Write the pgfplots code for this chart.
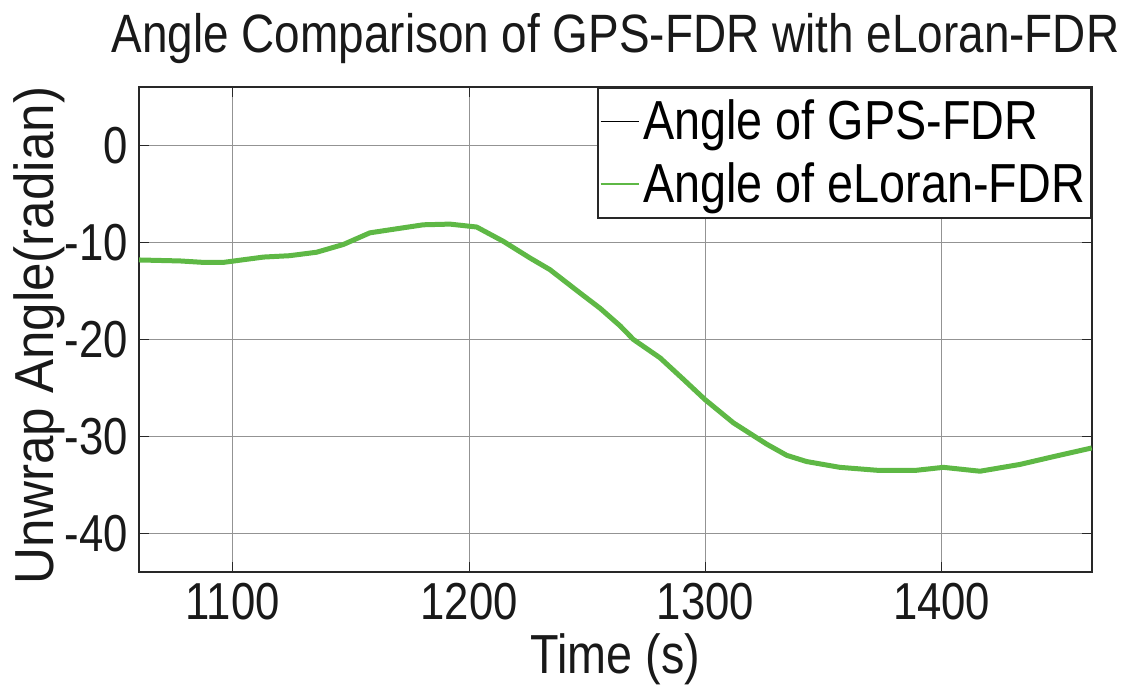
\documentclass[border=0pt]{standalone}
\usepackage{pgfplots}
\pgfplotsset{compat=1.18}
\usepackage{fontspec}
\setmainfont[FakeStretch=0.85]{Liberation Sans}
\newfontfamily\tickfont[FakeStretch=0.84]{Liberation Sans}
\newfontfamily\ylfont[FakeStretch=0.93]{Liberation Sans}
\definecolor{lgreen}{RGB}{94,184,69}
\definecolor{axgray}{RGB}{40,40,40}
\begin{document}
\pgfplotstableread{
x y
1060.3 -11.8
1077.6 -11.9
1087.5 -12.05
1096.0 -12.05
1113.0 -11.5
1124.0 -11.36
1135.5 -11.0
1146.8 -10.2
1158.0 -9.0
1169.4 -8.58
1180.6 -8.17
1191.9 -8.1
1203.2 -8.4
1214.5 -9.88
1225.8 -11.6
1234.2 -12.8
1246.9 -15.2
1255.5 -16.8
1263.9 -18.6
1269.5 -20.0
1280.8 -21.9
1290.6 -24.1
1299.8 -26.2
1311.8 -28.6
1325.9 -30.8
1334.4 -31.96
1342.8 -32.6
1356.9 -33.2
1372.5 -33.5
1389.4 -33.5
1400.7 -33.2
1416.2 -33.6
1433.1 -32.9
1447.2 -32.1
1463.5 -31.2
}\gpsdata
\begin{tikzpicture}
\begin{axis}[
  scale only axis,
  width=476.5pt, height=242.5pt,
  xmin=1060.3, xmax=1463.6,
  ymin=-44, ymax=6.05,
  xtick={1100,1200,1300,1400},
  ytick={-40,-30,-20,-10,0},
  /pgf/number format/assume math mode=true,
  /pgf/number format/set thousands separator={},
  tick label style={font=\tickfont\fontsize{26}{30}\selectfont, text=black!90},
  label style={font=\fontsize{27.5}{32}\selectfont, text=black!90},
  title style={font=\fontsize{27}{32}\selectfont, text=black!90, yshift=2pt},
  title={Angle Comparison of GPS-FDR with eLoran-FDR},
  xlabel={Time (s)},
  ylabel={Unwrap Angle(radian)},
  every axis y label/.style={at={(rel axis cs:0,0.5)}, rotate=90, anchor=center,
    xshift=-3pt, yshift=50pt, font=\ylfont\fontsize{27.5}{32}\selectfont, text=black!90},
  tick align=inside,
  major tick length=5pt,
  tick style={axgray, line width=0.6pt},
  axis line style={axgray, line width=0.9pt},
  grid=major,
  major grid style={gray!85, line width=0.4pt},
  xticklabel style={yshift=-2pt},
  yticklabel style={xshift=-2pt},
  legend style={at={(rel axis cs:1,1)}, anchor=north east,
    draw=axgray, line width=0.9pt, font=\fontsize{27.5}{32}\selectfont,
    inner xsep=1pt, inner ysep=4pt, row sep=6pt, cells={anchor=west}},
  legend image code/.code={\draw[#1, line width=0.8pt] (0pt,0pt) -- (19pt,0pt);},
  legend cell align=left,
]
\addplot[black, line width=1pt] table[x=x,y=y]{\gpsdata};
\addlegendentry{Angle of GPS-FDR}
\addplot[lgreen, line width=2.5pt] table[x=x,y=y]{\gpsdata};
\addlegendentry{Angle of eLoran-FDR}
\end{axis}
\pgfresetboundingbox
\path ([xshift=-69.5pt,yshift=-56.5pt]current axis.south west) rectangle ([xshift=16.5pt,yshift=43.5pt]current axis.north east);
\end{tikzpicture}
\end{document}
